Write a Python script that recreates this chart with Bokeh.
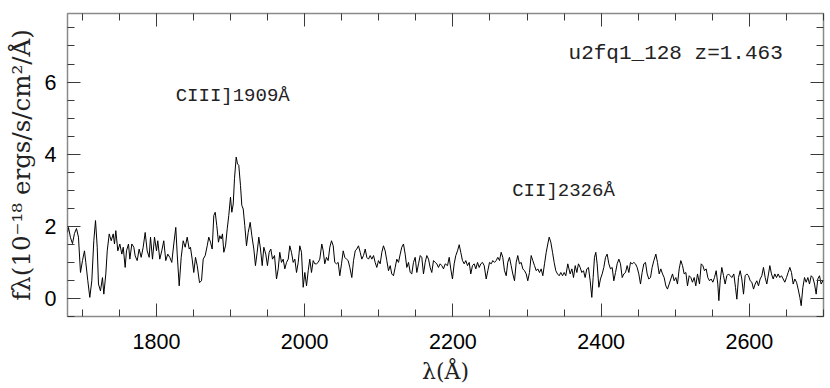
from bokeh.plotting import figure
from bokeh.models import Range1d, LinearAxis, FixedTicker, CustomJSTickFormatter, Label
from bokeh.embed import file_html
from bokeh.resources import INLINE

# ---- spectrum data (wavelength in Angstrom, flux in 1e-18 erg/s/cm2/A) ----
wave_a = [1680.0, 1681.3, 1684.0, 1686.7, 1689.4, 1692.1, 1694.8, 1697.5, 1700.2, 1702.9,
          1704.7, 1707.4, 1710.1, 1712.8, 1715.5, 1717.8, 1720.1, 1721.8, 1724.5, 1727.2,
          1729.0, 1731.7, 1733.6, 1736.3, 1739.0, 1741.7, 1743.4, 1745.2, 1747.9, 1750.6,
          1753.3, 1755.2, 1757.8, 1759.6, 1762.3, 1764.1, 1766.8, 1769.5, 1771.3, 1774.0,
          1776.7, 1779.4, 1782.1, 1784.8, 1787.5, 1790.2, 1792.0, 1794.7, 1797.4, 1800.1,
          1801.8, 1804.5, 1807.2, 1809.9, 1812.6, 1815.3, 1818.0, 1820.7, 1823.4, 1826.1,
          1828.0, 1830.7, 1833.4, 1836.1, 1838.8, 1841.5, 1844.2]
flux_a = [1.83, 1.97, 1.69, 1.52, 1.80, 1.94, 1.70, 0.72, 1.05, 1.32,
          1.00, 0.49, 0.03, 0.49, 1.60, 2.16, 1.42, 0.40, 0.21, 0.58,
          0.12, 0.68, 1.32, 1.79, 1.60, 1.79, 1.51, 1.88, 1.32, 1.51,
          1.23, 1.42, 0.86, 1.32, 1.51, 1.09, 1.51, 1.42, 1.18, 1.05,
          1.37, 1.14, 1.42, 1.83, 1.32, 1.14, 1.70, 1.09, 1.70, 1.32,
          1.60, 1.09, 1.32, 1.60, 1.05, 1.23, 1.14, 1.00, 1.51, 1.97,
          1.23, 0.35, 1.14, 1.60, 1.42, 1.70, 1.37]

wave_b = [1845.9, 1848.2, 1850.4, 1852.7, 1855.0, 1858.1, 1860.8, 1863.1, 1865.8, 1868.5,
          1870.6, 1872.9, 1875.2, 1877.4, 1879.3, 1881.4, 1883.7, 1885.5, 1887.4, 1889.1,
          1890.9, 1893.2, 1895.5, 1897.6, 1899.9, 1901.7, 1903.6, 1905.3, 1907.6, 1909.4,
          1911.1, 1913.4, 1915.2, 1917.1, 1919.2, 1921.5, 1923.8, 1926.5, 1928.7, 1931.4,
          1933.6, 1935.9, 1938.1, 1940.4, 1942.7, 1944.9, 1947.5, 1949.8, 1952.1, 1954.3,
          1956.6, 1959.3, 1962.0, 1964.3, 1966.4, 1968.7, 1971.0, 1973.2, 1975.5, 1977.8,
          1979.9, 1982.2, 1984.5, 1986.7, 1989.0, 1991.3, 1993.4, 1995.7, 1998.0, 2000.2,
          2002.5, 2004.8, 2006.9, 2009.2, 2011.5, 2013.7]
flux_b = [1.42, 1.09, 0.72, 1.14, 0.91, 0.44, 0.49, 1.09, 1.19, 1.46,
          1.70, 1.56, 1.37, 2.30, 2.39, 2.02, 1.56, 1.74, 1.65, 1.79,
          1.28, 1.46, 1.93, 2.30, 2.81, 2.39, 2.62, 3.32, 3.92, 3.73,
          3.69, 3.13, 2.58, 2.48, 2.02, 1.46, 1.83, 2.11, 1.74, 1.37,
          0.91, 1.28, 1.70, 1.37, 0.91, 1.42, 1.23, 0.91, 1.28, 1.37,
          1.09, 1.19, 0.54, 0.82, 1.28, 1.00, 1.09, 0.82, 1.00, 1.09,
          1.46, 1.28, 1.00, 1.09, 0.72, 1.00, 1.46, 1.28, 0.31, 0.72,
          0.35, 0.77, 1.09, 0.72, 1.05, 0.96]

wave_c = [2015.9, 2018.2, 2020.4, 2023.1, 2025.0, 2027.1, 2029.4, 2031.7, 2033.9, 2036.2,
          2038.5, 2040.6, 2042.9, 2045.2, 2047.4, 2049.7, 2052.0, 2054.1, 2056.4, 2058.7,
          2060.9, 2063.6, 2065.9, 2068.2, 2070.3, 2072.6, 2074.9, 2077.1, 2079.4, 2081.7,
          2083.8, 2086.1, 2088.4, 2090.6, 2092.9, 2095.1, 2097.3, 2099.6, 2101.9, 2104.1,
          2106.3, 2108.6, 2110.8, 2113.1, 2115.4, 2117.5, 2119.8, 2122.1, 2124.3, 2126.6,
          2128.9, 2131.0, 2133.3, 2135.6, 2137.8, 2140.1, 2142.4, 2144.5, 2146.8, 2149.1,
          2151.3, 2153.6, 2155.9, 2158.0, 2160.3, 2162.6, 2164.8, 2167.1, 2169.3, 2171.5,
          2173.8, 2176.1, 2178.3, 2180.5, 2182.8, 2185.0, 2187.3, 2189.6]
flux_c = [0.96, 1.00, 1.09, 1.51, 1.32, 0.96, 1.14, 1.05, 1.42, 1.60,
          1.46, 1.00, 0.96, 1.00, 0.63, 0.96, 1.32, 1.14, 1.09, 1.05,
          0.86, 0.58, 1.05, 1.32, 1.37, 1.46, 1.28, 1.09, 1.19, 1.37,
          1.14, 1.09, 1.19, 1.09, 1.19, 1.00, 0.86, 1.05, 0.96, 1.28,
          1.46, 1.32, 1.05, 0.77, 0.91, 0.68, 0.63, 0.86, 1.09, 1.00,
          1.23, 1.42, 1.51, 1.23, 0.86, 1.00, 0.72, 0.68, 1.00, 1.14,
          0.72, 0.96, 1.19, 1.14, 0.68, 1.00, 1.19, 1.09, 0.86, 0.72,
          1.05, 1.00, 0.96, 0.86, 0.96, 0.91, 0.82, 0.96]

wave_d = [2192.7, 2195.0, 2197.1, 2199.4, 2201.7, 2203.9, 2206.2, 2208.5, 2210.6, 2212.9,
          2215.2, 2217.4, 2219.7, 2222.0, 2224.1, 2226.4, 2228.7, 2230.9, 2233.2, 2235.5,
          2237.6, 2239.9, 2242.2, 2244.9, 2247.1, 2249.4, 2251.7, 2253.8, 2256.1, 2258.4,
          2260.6, 2262.9, 2265.1, 2267.3, 2269.6, 2271.9, 2274.0, 2276.3, 2278.6, 2280.8,
          2283.1, 2285.4, 2287.5, 2289.8, 2292.1, 2294.3, 2296.6, 2298.9, 2301.0, 2303.3,
          2305.6, 2307.8, 2310.1, 2312.4, 2314.5, 2316.8, 2319.1, 2321.3, 2323.6, 2325.9,
          2328.0, 2329.9, 2332.1, 2334.4, 2336.6, 2338.8, 2341.1, 2343.4, 2345.6, 2347.9,
          2350.1, 2352.3, 2355.0]
flux_d = [0.91, 1.14, 0.82, 0.54, 0.96, 1.19, 1.32, 1.49, 1.28, 1.05,
          0.96, 1.05, 0.91, 1.00, 0.68, 0.91, 0.96, 0.82, 1.00, 0.86,
          0.96, 1.00, 0.91, 0.54, 0.77, 1.00, 0.96, 1.05, 1.00, 1.05,
          1.14, 1.05, 1.28, 1.14, 0.77, 0.63, 1.00, 1.14, 0.91, 0.68,
          0.49, 1.00, 1.19, 0.96, 1.00, 0.82, 0.77, 0.68, 0.49, 0.72,
          1.19, 1.05, 0.91, 0.77, 0.82, 0.72, 0.82, 0.63, 0.96, 1.28,
          1.51, 1.70, 1.56, 1.28, 1.00, 0.77, 0.68, 0.63, 0.72, 0.63,
          0.72, 0.63, 0.96]

wave_e = [2358.2, 2360.5, 2362.7, 2365.0, 2367.2, 2369.4, 2371.7, 2373.9, 2376.2, 2378.4,
          2380.7, 2382.9, 2385.2, 2387.4, 2389.2, 2391.0, 2392.8, 2394.6, 2396.9, 2399.1,
          2401.4, 2403.6, 2405.9, 2408.1, 2410.4, 2412.6, 2414.9, 2417.1, 2419.4, 2421.6,
          2423.9, 2426.1, 2428.4, 2430.6, 2432.9, 2435.1, 2437.4, 2439.6, 2441.9, 2444.1,
          2446.3, 2448.6, 2450.8, 2453.1, 2455.3, 2457.6, 2459.8, 2462.1, 2464.3, 2466.6,
          2468.8, 2471.1, 2473.8, 2476.0, 2478.3, 2480.5, 2482.8, 2485.0, 2487.3, 2489.5,
          2491.8, 2494.0, 2496.3, 2498.5, 2500.8, 2503.0, 2505.3, 2507.5, 2509.8, 2512.0,
          2514.3, 2516.5, 2518.8, 2521.0, 2523.2, 2525.5, 2527.7, 2530.0]
flux_e = [0.68, 0.82, 0.58, 0.91, 0.72, 0.96, 0.86, 0.72, 0.77, 0.58,
          0.82, 0.86, 0.49, 0.03, 0.58, 1.14, 1.28, 0.96, 0.31, 0.54,
          0.68, 0.86, 1.14, 1.23, 0.96, 0.82, 0.86, 0.49, 0.72, 0.96,
          1.09, 0.96, 0.58, 0.68, 0.72, 0.91, 0.72, 1.00, 0.96, 1.00,
          0.96, 0.86, 0.68, 0.40, 0.72, 0.96, 1.00, 0.68, 0.54, 0.58,
          0.86, 1.05, 1.23, 1.00, 0.68, 0.82, 0.68, 0.58, 0.35, 0.26,
          0.40, 0.54, 0.68, 0.49, 0.58, 0.40, 0.82, 1.05, 0.91, 0.68,
          0.72, 0.35, 0.63, 0.58, 0.45, 0.58, 0.35, 0.68]

wave_f = [2532.7, 2535.0, 2537.2, 2539.4, 2541.7, 2543.9, 2546.2, 2548.4, 2550.7, 2552.9,
          2555.2, 2557.4, 2558.8, 2560.6, 2562.8, 2565.1, 2567.3, 2569.6, 2571.8, 2574.1,
          2576.3, 2579.0, 2581.3, 2583.1, 2585.3, 2587.6, 2589.8, 2592.1, 2594.3, 2596.6,
          2598.8, 2601.1, 2603.3, 2605.6, 2607.8, 2610.0, 2612.3, 2614.5, 2616.8, 2619.0,
          2621.3, 2623.5, 2625.8, 2627.6, 2629.8, 2632.1, 2634.3, 2636.6, 2638.8, 2641.1,
          2643.3, 2645.6, 2647.8, 2650.1, 2652.3, 2654.6, 2656.8, 2659.1, 2661.3, 2663.6,
          2665.8, 2668.1, 2669.9, 2672.1, 2674.4, 2676.6, 2678.9, 2681.1, 2683.4, 2685.6,
          2687.9, 2690.1, 2692.3, 2694.6, 2696.8, 2699.1]
flux_f = [0.40, 0.96, 0.91, 0.77, 0.82, 0.58, 0.49, 0.54, 0.45, 0.58,
          0.77, 0.40, -0.06, 0.49, 0.86, 0.63, 0.40, 0.63, 0.68, 0.63,
          0.58, 0.68, 0.30, -0.02, 0.58, 0.77, 0.54, 0.12, 0.63, 0.68,
          0.63, 0.49, 0.45, 0.26, 0.40, 0.49, 0.35, 0.54, 0.63, 0.86,
          0.58, 0.40, 0.68, 0.91, 0.68, 0.54, 0.68, 0.58, 0.68, 0.58,
          0.63, 0.54, 0.45, 0.58, 0.72, 0.86, 0.72, 0.40, 0.54, 0.45,
          0.26, 0.03, -0.20, 0.30, 0.58, 0.45, 0.58, 0.40, 0.63, 0.58,
          0.40, 0.12, 0.54, 0.63, 0.40, 0.49]

wave = wave_a + wave_b + wave_c + wave_d + wave_e + wave_f
flux = flux_a + flux_b + flux_c + flux_d + flux_e + flux_f

x_major = [1800, 2000, 2200, 2400, 2600]
x_minor = [1700, 1750, 1800, 1850, 1900, 1950, 2000, 2050, 2100, 2150, 2200, 2250,
           2300, 2350, 2400, 2450, 2500, 2550, 2600, 2650, 2700]
y_major = [0, 2, 4, 6]
y_minor = [-0.5, 0, 0.5, 1, 1.5, 2, 2.5, 3, 3.5, 4, 4.5, 5, 5.5, 6, 6.5, 7, 7.5]

line_labels = ["CIII]1909\u00c5", "CII]2326\u00c5"]
line_label_x = [1826, 2280]
line_label_y = [5.6, 2.98]
object_label = "u2fq1_128 z=1.463"
object_label_x = 2356
object_label_y = 6.78

x_title = "\u03bb(\u00c5)"
y_title = "f\u03bb(10\u207b\u00b9\u2078 ergs/s/cm\u00b2/\u00c5)"

X_LO, X_HI = 1680, 2700
Y_LO, Y_HI = -0.5, 7.9

# ---- figure ----
p = figure(width=830, height=388, output_backend="svg", toolbar_location=None,
           x_range=Range1d(X_LO, X_HI), y_range=Range1d(Y_LO, Y_HI),
           min_border_left=67, min_border_right=7, min_border_top=13, min_border_bottom=72,
           x_axis_location=None, y_axis_location=None)
p.grid.visible = False
p.outline_line_color = "#8a8a8a"
p.outline_line_width = 1.5
p.background_fill_color = "white"
p.border_fill_color = "white"

tick_font = "Liberation Sans"
title_font = "DejaVu Serif"
tick_color = "#3a3a3a"


def style(ax, labels=True, title_size="24.5px"):
    ax.axis_line_color = None
    ax.major_tick_in = 13
    ax.major_tick_out = 0
    ax.minor_tick_in = 7
    ax.minor_tick_out = 0
    ax.major_tick_line_color = tick_color
    ax.minor_tick_line_color = tick_color
    ax.major_tick_line_width = 1
    ax.minor_tick_line_width = 1
    if labels:
        ax.major_label_text_font = tick_font
        ax.major_label_text_font_size = "21.5px"
        ax.major_label_text_color = "black"
        ax.axis_label_text_font = title_font
        ax.axis_label_text_font_style = "normal"
        ax.axis_label_text_font_size = title_size
        ax.axis_label_text_color = "#222222"
    else:
        ax.formatter = CustomJSTickFormatter(code="return ''")
        ax.major_label_text_font_size = "1px"
        ax.major_label_standoff = 0


xb = LinearAxis(ticker=FixedTicker(ticks=x_major, minor_ticks=x_minor), axis_label=x_title)
style(xb, title_size="22px")
xb.major_label_standoff = 17
xb.axis_label_standoff = 7
p.add_layout(xb, "below")

yl = LinearAxis(ticker=FixedTicker(ticks=y_major, minor_ticks=y_minor), axis_label=y_title)
style(yl)
yl.major_label_standoff = 11
yl.axis_label_standoff = 6
p.add_layout(yl, "left")

xt = LinearAxis(ticker=FixedTicker(ticks=x_major, minor_ticks=x_minor))
style(xt, labels=False)
p.add_layout(xt, "above")

yr = LinearAxis(ticker=FixedTicker(ticks=y_major, minor_ticks=y_minor))
style(yr, labels=False)
p.add_layout(yr, "right")

p.line(wave, flux, line_color="black", line_width=1)

ann_font = "Liberation Mono"
for txt, lx, ly in zip(line_labels, line_label_x, line_label_y):
    p.add_layout(Label(x=lx, y=ly, text=txt, text_font=ann_font, text_font_size="19px",
                       text_baseline="middle", text_align="left", text_color="#222222"))
p.add_layout(Label(x=object_label_x, y=object_label_y, text=object_label, text_font=ann_font,
                   text_font_size="21px", text_baseline="middle", text_align="left",
                   text_color="#222222"))

open("out.html", "w").write(file_html(p, INLINE))
